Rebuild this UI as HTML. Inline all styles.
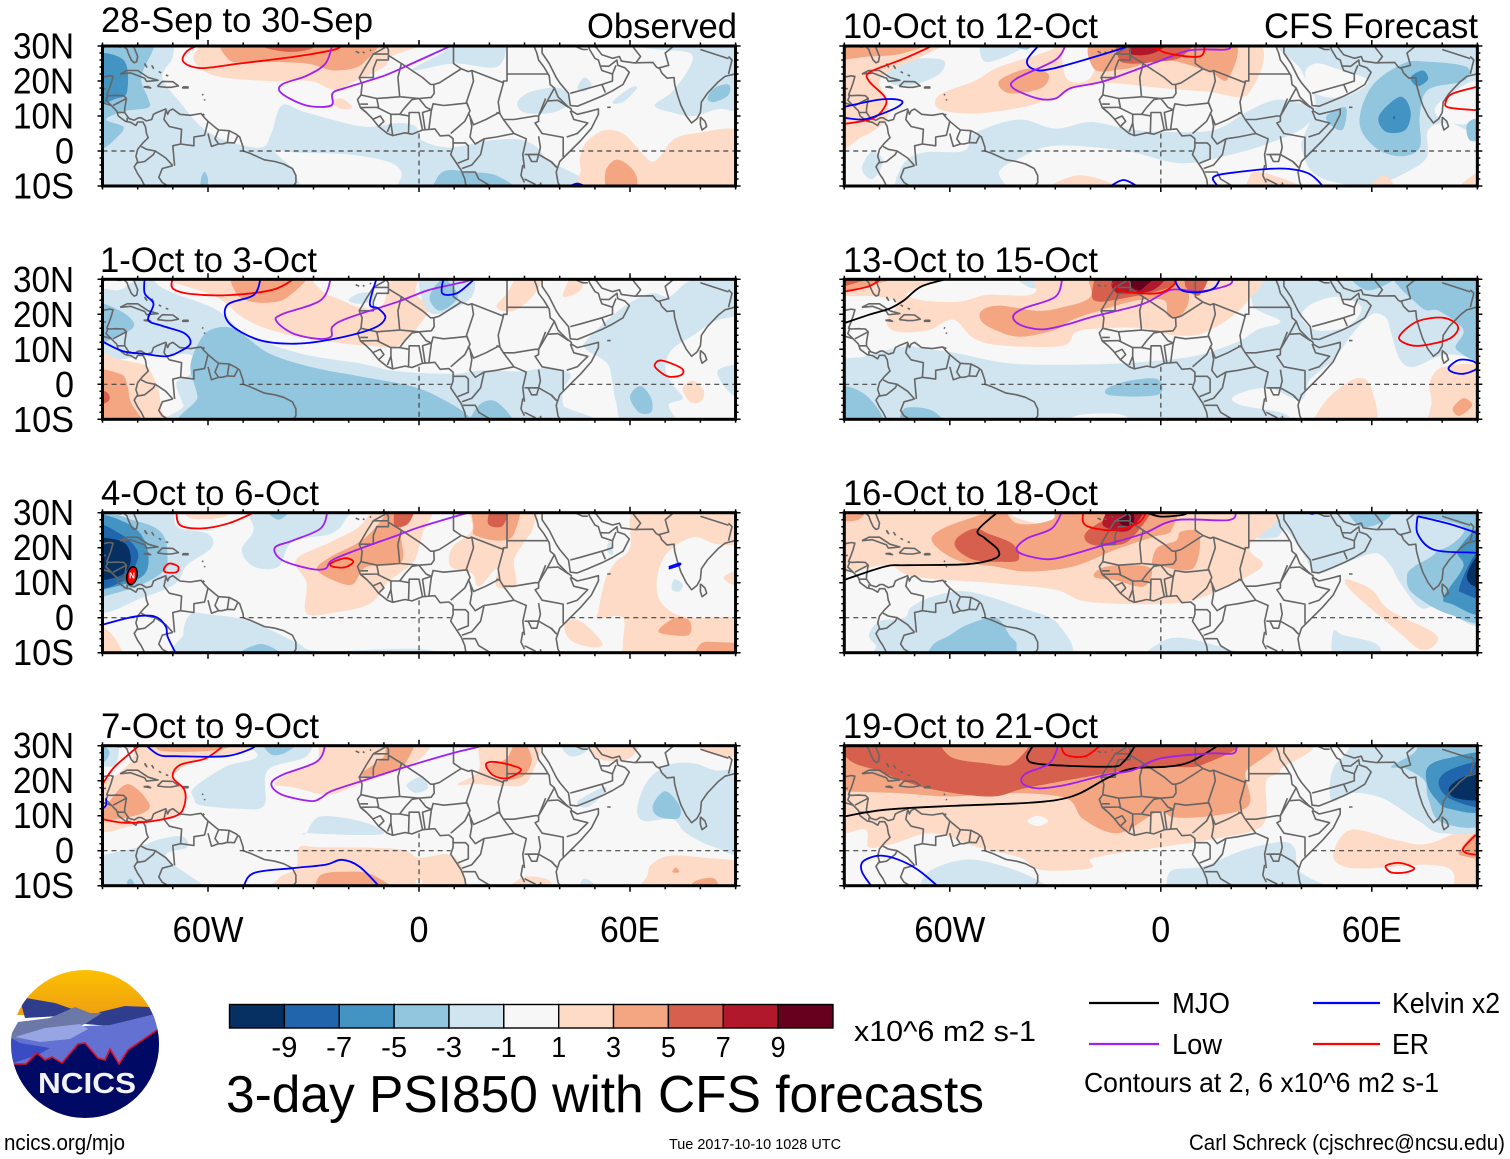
<!DOCTYPE html>
<html lang="en">
<head>
<meta charset="utf-8">
<title>3-day PSI850 with CFS forecasts</title>
<style>
html,body{margin:0;padding:0;background:#fff;}
svg{display:block;position:absolute;left:0;top:0;}
text{font-family:"Liberation Sans",sans-serif;fill:#000;}
</style>
</head>
<body>
<svg id="chart" xmlns="http://www.w3.org/2000/svg" width="1510" height="1159" viewBox="0 0 1510 1159">
<defs id="defs"><clipPath id="logo-clip"><circle cx="85" cy="1044" r="74"/></clipPath>
<linearGradient id="logo-sky" x1="0" y1="0" x2="0" y2="1"><stop offset="0" stop-color="#fdc400"/><stop offset="1" stop-color="#ee9f10"/></linearGradient></defs>
<g id="panel-0"><text x="101" y="32" font-size="35" textLength="272" lengthAdjust="spacingAndGlyphs">28-Sep to 30-Sep</text><text x="587" y="38" font-size="35" textLength="150" lengthAdjust="spacingAndGlyphs">Observed</text></g>
<g id="panel-1"><text x="100" y="272" font-size="35" textLength="217" lengthAdjust="spacingAndGlyphs">1-Oct to 3-Oct</text></g>
<g id="panel-2"><text x="101" y="505" font-size="35" textLength="218" lengthAdjust="spacingAndGlyphs">4-Oct to 6-Oct</text></g>
<g id="panel-3"><text x="101" y="738" font-size="35" textLength="218" lengthAdjust="spacingAndGlyphs">7-Oct to 9-Oct</text></g>
<g id="panel-4"><text x="843" y="38" font-size="35" textLength="255" lengthAdjust="spacingAndGlyphs">10-Oct to 12-Oct</text><text x="1264" y="38" font-size="35" textLength="214" lengthAdjust="spacingAndGlyphs">CFS Forecast</text></g>
<g id="panel-5"><text x="843" y="272" font-size="35" textLength="255" lengthAdjust="spacingAndGlyphs">13-Oct to 15-Oct</text></g>
<g id="panel-6"><text x="843" y="505" font-size="35" textLength="255" lengthAdjust="spacingAndGlyphs">16-Oct to 18-Oct</text></g>
<g id="panel-7"><text x="843" y="738" font-size="35" textLength="255" lengthAdjust="spacingAndGlyphs">19-Oct to 21-Oct</text></g>

<g id="colorbar"></g>
<text x="854" y="1041" font-size="29" textLength="182" lengthAdjust="spacingAndGlyphs">x10^6 m2 s-1</text>
<text x="226" y="1112" font-size="52" textLength="758" lengthAdjust="spacingAndGlyphs">3-day PSI850 with CFS forecasts</text>

<g>
<line x1="1089" x2="1159" y1="1003" y2="1003" stroke="#000" stroke-width="2.2"/>
<text x="1172" y="1013" font-size="29" textLength="58" lengthAdjust="spacingAndGlyphs">MJO</text>
<line x1="1313" x2="1380" y1="1003" y2="1003" stroke="#0000ff" stroke-width="2.2"/>
<text x="1392" y="1013" font-size="29" textLength="108" lengthAdjust="spacingAndGlyphs">Kelvin x2</text>
<line x1="1089" x2="1159" y1="1044" y2="1044" stroke="#a020f0" stroke-width="2.2"/>
<text x="1172" y="1054" font-size="29" textLength="50" lengthAdjust="spacingAndGlyphs">Low</text>
<line x1="1313" x2="1380" y1="1044" y2="1044" stroke="#ff0000" stroke-width="2.2"/>
<text x="1392" y="1054" font-size="29" textLength="37" lengthAdjust="spacingAndGlyphs">ER</text>
<text x="1084" y="1092" font-size="28" textLength="355" lengthAdjust="spacingAndGlyphs">Contours at 2, 6 x10^6 m2 s-1</text>
</g>

<g clip-path="url(#logo-clip)">
<rect x="5" y="965" width="160" height="50" fill="url(#logo-sky)"/>
<path d="M20 1000 L26 998 L55 1003 L75 1010 L60 1016 L25 1018Z" fill="#2f3d8c"/>
<path d="M85 1024 L100 1012 L125 1006 L150 1007 L160 1020 L110 1026Z" fill="#2f3d8c"/>
<path d="M8 1040 L18 1022 L50 1018 L75 1007 L90 1013 L102 1013 L85 1024 L60 1032 L20 1042Z" fill="#6b78a8"/>
<path d="M8 1040 L60 1034 L85 1026 L110 1025 L155 1014 L165 1040 L165 1100 L8 1100Z" fill="#6372d2"/>
<path d="M15 1037 L45 1028 L80 1024 L88 1029 L70 1039 L40 1042Z" fill="#98a5e4"/>
<path d="M8 1036 L20 1043 L50 1048 L38 1055 L16 1062 L8 1066Z" fill="#3a4cc4"/>
<path d="M13 1064 L26 1064 L37 1053 L45 1060 L52 1057 L62 1063 L78 1044 L85 1043 L98 1058 L105 1060 L110 1049 L119 1064 L128 1050 L157 1030 L165 1020 L165 1125 L5 1125Z" fill="#000a64"/>
<path d="M13 1064 L26 1064 L37 1053 L45 1060 L52 1057 L62 1063 L78 1044 L85 1043 L98 1058 L105 1060 L110 1049 L119 1064 L128 1050 L157 1030 L165 1020" fill="none" stroke="#e0102a" stroke-width="1.6"/>
<text x="38" y="1093" font-size="29" font-weight="bold" textLength="98" lengthAdjust="spacingAndGlyphs" style="fill:#f2f2f2">NCICS</text>
</g>

<text x="4" y="1150" font-size="22" textLength="121" lengthAdjust="spacingAndGlyphs">ncics.org/mjo</text>
<text x="669" y="1149" font-size="15" textLength="172" lengthAdjust="spacingAndGlyphs">Tue 2017-10-10 1028 UTC</text>
<text x="1189" y="1150" font-size="22" textLength="316" lengthAdjust="spacingAndGlyphs">Carl Schreck (cjschrec@ncsu.edu)</text>
</svg>

<script>
// Colour bins, tick labels
const binColors = ["#053061","#2166ac","#4393c3","#92c5de","#d1e5f0","#f7f7f7","#fddbc7","#f4a582","#d6604d","#b2182b","#67001f"];
const binLabels = ["-9","-7","-5","-3","-1","1","3","5","7","9"];
const latTicks = [30,20,10,0,-10];
const latTickLabels = ["30N","20N","10N","0","10S"];
const lonMajorTicks = [-60,0,60];
const lonTickLabels = ["60W","0","60E"];
const waveColors = {mjo:"#000000",low:"#a020f0",kelvin:"#0000ff",er:"#ff0000"};

// Shaded fields: [bin level, [lon,lat,...]] painted in order
const fillsSep28 = [
[-1,[-92,32,-72,32,-70,27,-73,21,-68,14,-62,7,-55,3,-45,1,-42,5,-39,13,-32,11,-16,7,-6,8,-1,7,1,3,9,1,20,3,30,3,36,-2,40,-13,-92,-13]],
[0,[-41,0,-34,-0.5,-20,-1,-9,-3,-5,-6,-6,-9.5,-8,-13,-30,-13,-36,-5]],
[-1,[-1,23,10,25,22,24,25,30,25,33,10,33,8,29,-1,24]],
[-1,[28,14,32,17,40,18,43,14,38,11,30,11]],
[-1,[45,18,47,21,49,19,47,17]],
[-1,[67,13,72,17,77,24,77,28,68,29,62,30,62,33,93,33,93,13,85,12,78,10,72,11]],
[-1,[55,14,60,18,62,18,58,14]],
[-2,[82,15,84,18,88,19,88,16,84,14]],
[-2,[-93,33,-75,33,-75.6,29,-79,21,-77,15,-77,12.4,-83.6,11.4,-89,9,-84,6.8,-86.4,3.4,-90,0.6,-93,0.6]],
[-3,[-93,27,-84,26,-83,17,-86,15,-93,14]],
[-2,[-62,-8,-61,-6,-60,-8,-60.5,-11,-62,-11]],
[-2,[5,-8,8,-5.5,14,-6,22,-7,27,-12,5,-13]],
[1,[-64,26,-62,31,-62,33,1,33,0,30,-8,27,-10,24,-18,20,-24,17.5,-31,20,-43,20,-58,21.5]],
[1,[-25,14,-22,15,-19,12.5,-22,12]],
[2,[-54,26,-53,33,-14,33,-16,25,-24,23,-32,25,-46,25.5]],
[3,[-45,30,-37,28.3,-30,29.5,-29,33,-46,33]],
[1,[46,-1,48,3,53,6,58,5,62,1,66,-3,69,-1,72,3,78,5,93,5,93,-13,49,-13,46,-5]],
[2,[53,-6,56,-2.5,60,-4.5,62,-8,61,-12,54,-12]]
];
const linesSep28 = [
["er",false,[-62,30.5,-66,28.5,-67,25.5,-62,23.7,-51,25,-35,27,-24,29,-22,30.5]],
["low",false,[-24.6,30.5,-26.6,25,-32,21.5,-39,19,-39,16.4,-32,13,-25,13,-24.6,16.5,-21,18,-10,21.5,-2,25,10,30.5]],
["kelvin",false,[42,-10.5,45,-9.3,48,-10.5]]
];

const fillsOct1 = [
[-1,[-93,26,-85,27,-78,31,-72,27,-59,22,-54,18.4,-51,15.5,-46,12.7,-32,8.4,-17,6,-6,3.7,10,3,18,4,29,3.7,36,4.6,43,3,41,-1.5,41,-6,43,-12,-65,-13,-67,-6,-69,0.4,-65,3,-65,8.4,-78,8,-93,8]],
[1,[-72,33,-72,30,-60,26,-56,24,-49,18.4,-39,14.6,-24,12,-14,11,-6,11,0.5,17.5,2.6,22,-1,26,0,30,1,33]],
[0,[-30,33,-9,33,-9,27,-11,22,-17,22,-22,24,-28,27]],
[-1,[-20,24,-17,26,-13,26,-13,24,-17,23]],
[-1,[1,33,14,33,15,25,5,20,1,24]],
[-1,[48,13,58,22,66,26,71,25,76,29,80,30,93,30,93,21,84,18,78,14,72,10,70,5,72,0,75,-4,71,-6,73,-12,59,-12,56,-5,55,0.4,53.5,6,47.5,10]],
[-1,[85,4,88,-2,93,-4,93,5]],
[-2,[-62,13,-58,16,-52,15.6,-43,9,-31,5,-17,2.3,-2,-0.6,7,-4.4,14,-9,15,-13,-63,-13,-63,-3.5,-65,5]],
[-2,[17,-6,22,-5,27,-12,15,-12]],
[-2,[-93,23,-85,21,-81,17,-85,14,-93,12]],
[-2,[3,25,7,30,11,25,6,21]],
[-2,[60,-3.5,63,-0.5,66,-4,66,-8,62.5,-8]],
[2,[-52,33,-52,26,-47,23.5,-40,23.7,-36,26,-32,30,-32,33]],
[1,[22,22,25,26,29,32,35,32,33,26,27,21]],
[1,[41,26,44,32,47,32,46,27,42,25]],
[1,[-93,8,-85,7,-78,5.5,-76,3,-74,-2,-73,-8,-70,-12,-93,-13]],
[2,[-93,3,-85,3,-83,0,-82,-5,-79,-12,-93,-13]],
[3,[-93,-1,-88.5,-2.5,-88.5,-5,-93,-6]],
[1,[75,-1,78,1,81,-2,80,-5,77,-5]]
];
const linesOct1 = [
["er",false,[-70,30.5,-70,27.4,-64.7,25.8,-54,25.5,-41.6,27,-35,30.5]],
["low",false,[-25,30.5,-28,24,-39,20,-40.5,18,-36,14.6,-29,13,-25,13.6,-24.6,16.5,-20,19,-6,23.6,3,27,13,29.3,16,30.5]],
["kelvin",false,[-78,30.5,-78,26,-75.5,23,-77,18.4,-73,16.7,-66.7,14.6,-65,11.7,-68,9.4,-72,8,-78,8.7,-84,9.4,-90,12.2]],
["kelvin",false,[-45,30.5,-47,25.5,-54.5,22.7,-54,17.5,-45.6,12.7,-35,11.6,-24,13,-13,16,-9.6,19,-11.6,21.7,-14,23,-12,30.5]],
["kelvin",false,[7,30.5,6.6,26,10.7,26,15,29.4,16,30.5]],
["kelvin",false,[-90,4,-90,2]],
["er",true,[67,5.6,69,6.8,74.6,4.6,74.6,2.7,71,2.2,68,4]]
];

const fillsOct4 = [
[-1,[-93,33,-72,33,-68.7,26,-60,24,-59,20,-66,15,-69,10,-78,6,-93,3]],
[-1,[-47,33,-20,33,-21,28,-25,24,-36,21.7,-40,14.6,-47,14.6,-50.4,19.4,-47,25]],
[-1,[-65,1,-67,-4.5,-65,-13,5,-13,1,-9,-28,-9.5,-35,-7,-48,-1,-60,1]],
[-2,[-53,-12,-45,-7.5,-38,-12]],
[-1,[72,10,73,11,75,9.5,74,7.5,72,8]],
[-1,[53.5,19,54,22,55,20,55,18]],
[-2,[-44,32,-40,28,-36,32]],
[-2,[-93,28.5,-80,27.5,-73,24,-71.5,17,-73,13,-80,9,-90,6,-93,5]],
[-3,[-93,28,-83,27,-78,22,-77,15,-80,11,-90,8,-93,8]],
[-4,[-93,26,-85,24,-80,19,-81,14,-83,11,-93,9]],
[-5,[-93,22,-84,21.5,-82,16,-85,12,-93,11.5]],
[1,[-32,1.3,-24,1.5,-14,4,-9,10,-2,15.5,0,20,1,24,4,33,-10,33,-17,26,-25,21.7,-35,16.5,-32,10]],
[1,[9,14.6,9.4,20,15,25,15.5,33,32.5,33,32.5,26,30,21.7,27,16.5,27.7,11,27,8.5,22,9,22,14,17,8.9,15,12.7]],
[1,[51,2,53,11,56,16,60,20,63,33,93,33,93,22,85,21,78,23,71,19,68,13,68,6,72,1.5,78,0,93,-1,93,-13,60,-13,58,-8,58,0,51,0]],
[1,[42,-1,46,-1,52,-7,50,-8.5,44,-7,41.5,-4]],
[1,[87,12,93,14,93,9,88,10]],
[1,[-93,-3,-88,-4,-84,-12,-93,-12]],
[1,[-67,33,-55,33,-55,29,-65,28.5]],
[2,[-29,14,-25,17.5,-16,22.3,-10,29,-10,33,1,33,-5,26,-5,16,-15,14.5,-19,9.5,-25,11]],
[2,[15.5,26,16,33,28,33,27,24,23,22,16,23.5]],
[2,[68.5,-3,73,0,77,-1,76.5,-5,69,-4.5]],
[2,[80,-7.5,85,-7,93,-8,93,-13,79,-13]],
[3,[-7,26.5,-6,33,-1,33,-3,27]],
[3,[19.5,27.5,21,32,25.5,32,24,26.5,21,26]]
];
const linesOct4 = [
["low",false,[-26,30.5,-28,25.5,-36,22,-41,20,-39,16.5,-31,14,-26.6,14,-24.6,16.5,-16,20,-6,23.6,0.5,26,15.5,30.5]],
["er",false,[-69,30.5,-68,26.5,-62,25.5,-54,27,-46,30.5]],
["er",true,[-72.5,14,-71,15.5,-68.5,14.6,-69,13,-72,13]],
["er",true,[-25,15.6,-21,17,-18.7,16,-21,14.4,-24.6,14.6]],
["kelvin",false,[-90,-2,-81,0.3,-75,0.3,-72,-2.5,-71.5,-5.4,-69,-10.5]],
["kelvin",false,[71,14,74,15,74,15.5,71,14.5]]
];

const fillsOct7 = [
[-1,[-93,33,-86,33,-86,25,-90,24,-93,24]],
[-2,[-90,30,-88,28,-90,25]],
[-1,[-64,18,-55,24,-46,27,-50,33,-32,33,-32,27,-43,23,-44,13,-51,12,-62,13,-64,15]],
[-2,[-44,31,-42,27.5,-38,28,-35,31]],
[-1,[-32,5,-28,9.8,-16,8.3,-10,5,-18,4.5,-32,5]],
[-1,[-3.5,18.8,0.5,21,2.6,18,-1,16.5]],
[-1,[41,30,43,27,47,28,49,31]],
[-1,[45,14,52,18,53,17,48,12.5]],
[-1,[62,12,65,20,71,24.5,78,25,84,23,93,21,93,0,84,1,76,5,72,9,64,8.5]],
[-2,[66.5,13,70,17,74,13,73.7,9.3,68,9.8]],
[-1,[-93,-3,-80,1,-73,3.5,-67,4,-66,1,-72,-2,-60,-13,-93,-13]],
[-2,[-83,-9,-82,-8,-81,-9.5,-82,-11]],
[-1,[46,-9,47.5,-8,50,-10,50,-13,46,-13]],
[1,[-92,6,-82,7,-78,8.3,-70,9.8,-66.7,13,-66.7,17.4,-70,21,-64.7,25,-55,27.4,-48,29,-46,33,-76,33,-80,30,-82,25.4,-87,21,-92,19]],
[2,[-89,13,-83,19,-77,14,-78,11,-86,9,-93,9]],
[2,[-75,31,-73,28.5,-60,28.5,-53,30,-51,33,-75,33]],
[1,[-41,19,-37,22,-29,26,-26,33,1,33,0,26,-17,19,-26,16,-35,18]],
[2,[-16.5,22,-10,27,-9,33,-1,33,-3,26.5,-6,23.5,-13,21.5]],
[1,[11,19,17,23,18,33,34,33,31,20,24,18.5,17,19]],
[2,[19.5,24.5,25,26.5,28.4,33,32,26.5,30,21.6,25.7,20.2,23.6,20.7,19.5,23]],
[1,[49,30,63,33,60,26.5,52,26]],
[1,[78,33,93,33,93,27,82,28]],
[1,[-34,1,-28,1,-6,0.5,0,-2,8,-1,12,-4,13,-9,12,-13,-39,-13,-40,-8,-35,-5]],
[0,[0,-8,1,-8.8,0,-9.5,-1,-8.8]],
[2,[-30,-12,-28,-7,-21,-6,-13,-7,-7,-13,-32,-13]],
[1,[66,-4,71,-1.5,81,-2,93,-4,93,-13,64,-13,65,-7]],
[2,[72,-6,73,-4.8,74,-6,73,-6.3]],
[2,[78,-9,84,-8,85,-13,78,-13]],
[1,[25,-11,30,-7.5,37,-8.5,37,-13,25,-13]]
];
const linesOct7 = [
["er",false,[-90,19,-87,23.5,-82,28,-79,30.5]],
["er",false,[-90,9,-84,8,-77,8.3,-69,10,-66.7,13,-66.7,17.4,-70,21,-68,24.5,-60.6,26.4,-55,30.5]],
["kelvin",false,[-78,30.5,-74,27.4,-69,27,-55,27,-48,29,-46,30.5]],
["kelvin",false,[-89,15,-89,13,-90,12]],
["low",false,[-26.6,30.5,-29,25.5,-39,21.6,-42,19,-39,16,-31,14.2,-28,15,-25,17,-16,20,-2,24.5,10,28,17,29.7,19,30.5]],
["er",true,[19,24.5,21,25.4,26,24.5,29,23,25,20.7,21,21.6]],
["kelvin",false,[-50,-10.5,-47,-6.4,-36,-5,-26.6,-4,-22,-2.6,-17,-4.5,-11,-10.5]]
];

const fillsOct10 = [
[-1,[-53,5,-40.5,9,-30,6.4,-20,8.3,-10,6.4,0,5.5,15,6,24,11,32,14.5,38,14,44,12,41,7,33,3,22,-0.5,6,-3.5,-10,0,-30,1.5,-40,-2,-46,-6,-45,-13,-73,-13,-74,-5,-68,-0.5,-56,0]],
[-1,[-82,0,-79,-3,-82,-8,-85,-5]],
[-1,[-50,25.5,-40,29,-36,33,-50,33]],
[-2,[-42,30,-38,29,-37,31,-42,31]],
[-1,[-78,22,-72,26,-62,26,-63,22,-70,19,-76,19]],
[-1,[36,33,40,23,44,14,41,5,40,1,43,-6,50,-9,60,-10,70,-6,75.7,-1.6,76,6,82,8,93,6,93,33]],
[0,[44,25,50,23.5,59,20,52,15.5,44,16.4,41,22]],
[0,[80,14.5,90,20,90,9,82,8,78,11]],
[-2,[56.5,8,60,18.5,69,25,76,25.5,87,24,86,20,76,17.5,73.6,10,73.6,1,68,-1.5,61,1]],
[-3,[62,10,68,15.5,71,11.5,69.5,6,64,5.5]],
[-3,[71,21,74.5,23,76,20.5,73,18.5]],
[-4,[66,9.5,66.5,10,66.5,9]],
[-2,[47,9.8,52.5,12.5,52,6.5,49.5,6.5]],
[-2,[87,7.5,90,9,93,4,88,3]],
[1,[-93,33,-60,33,-68,27,-75,24,-80,20,-78,15,-78,9,-85,4,-93,2]],
[1,[-63,12,-63,16,-53,20,-46,24,-31,29,-27,33,25,33,25,16.5,13,17,0,18,-19,19.5,-30,15.5,-39,12.6,-53,10.7]],
[0,[-27,33,-27,21,-20,21,-17,33]],
[1,[-34,-13,-24,-7,-12,-10,-8,-13]],
[1,[25,-8,28,-6,40,-10,41,-13,25,-13]],
[1,[59,-11,64,-7,67,-13]],
[1,[86,-9,93,-5,93,-13,84,-13]],
[2,[-93,26.5,-83,27,-73,28,-62,33,-93,33]],
[2,[-46,20,-38,23.5,-32,22,-34,18,-43,16.5]],
[2,[-19,23.5,-17,33,19,33,19,20.5,13,23,1,26,-10,23.5]],
[3,[-12,26.5,-11,33,9,33,6,27,-1,25.5,-9,25]],
[4,[-9,29,-7,33,4,33,0,29,-4,27.5,-8,27.5]]
];
const linesOct10 = [
["er",false,[-64,30.5,-73,26.4,-82.6,22.6,-83,20,-78.5,15.5,-78.5,12.6,-82,9.3,-90,7.7]],
["kelvin",false,[-90,12.6,-80,14.7,-74,14.5,-74.5,12.8,-81,10,-85,9,-90,9.5]],
["kelvin",false,[-34.4,30.5,-38,26,-36.4,23.5,-31,23.5,-12,29,-9,30.5]],
["low",false,[-27,30.5,-30,26,-41,20.7,-42,18,-35,15,-30,15,-25.5,18,-16,20,-1,25.5,8.4,28.8,18.6,29,20,30.5]],
["er",false,[-3,30.5,1.6,28,11,27,12.5,30.5]],
["er",false,[90.5,18.5,83,16.4,81,14,82,12.4,90.5,11.6]],
["kelvin",false,[-15,-10.5,-10.6,-8.3,-6,-10.5]],
["kelvin",false,[16.6,-10.5,15,-7.4,22,-6,34,-5,42,-6.4,46.5,-10.5]]
];

const fillsOct13 = [
[-1,[-93,5,-84,8,-73,10.8,-66,10,-58,8.9,-43,6,-25.5,5.6,-10.6,6,1.6,7,11,8.4,22,12.2,27.4,15.6,34,18,26,23,33,33,93,33,93,10,80.4,8.4,72,5,68,7,65.5,14.6,64,19,60,20,54.6,14.6,49,7,42.4,1.3,39.7,-4.4,30,-1,20.6,-3.5,23,-6,34,-8,37,-10,38,-13,-93,-13]],
[0,[-27,-13,-24,-9,-12,-8.5,-8,-11,-8,-13]],
[0,[43,23,50.5,25,57,22,53,16.5,44,15.5,40,19.4]],
[-1,[-42,31,-36,27.4,-29,31,-42,33]],
[-2,[-93,-1,-84,-3,-79,-12,-93,-13]],
[-2,[-73,-7,-65,-7.5,-62,-12,-73,-13]],
[-2,[-15,-1,-9,1,-1,1.5,0,-2.5,-6.5,-3.5,-15,-3]],
[-2,[12,-10,20,-10,20,-13,12,-13]],
[-2,[53,33,58,27,65,29,68,33]],
[-2,[66,33,74,22,79,21,86,15.6,84,10,93,8,93,33]],
[1,[-93,33,-93,26,-80,25,-75,23,-78,18,-75,15,-66,15.5,-59,18.5,-53,13,-44.5,11,-28,11,-24,15,-16,16,-5,16,4,14,13,15,24,23,25,33,-30,33,-36,26,-44.5,25.5,-50,25.5,-57.5,23.6,-68,24,-72,26,-62,30,-60,33]],
[2,[-51,21,-46,22.5,-35,21,-28,22,-20,25,-19,33,4,33,8,25,5.5,19.5,2,19.5,1,24,-6.5,24,-16,21.5,-25,18.5,-30,15.6,-40,13.6,-47,15.5,-51,18]],
[2,[-93,26.5,-84,28,-75,31,-93,33]],
[3,[-19,30,-19,24,-11,24.5,3,28,3,33,-19,33]],
[3,[8,33,14,33,11,25.5,7,28]],
[3,[-93,31,-82,31,-90,28,-93,28]],
[4,[-14,29,-11,33,2,33,-2,27,-11,26,-13,26.5]],
[5,[-9,29,-8,33,0,33,-5,27.5,-7,27]],
[1,[42,-12,48,-3.5,56,1.8,60,-1.5,60,-13,40,-13]],
[1,[76.5,0.5,80.5,5,93,4,93,-13,77,-13,77,-5]],
[2,[83,-7,86,-4,88.5,-6,85,-9]]
];
const linesOct13 = [
["low",false,[-28,30.5,-30,25,-39,21.7,-42,19.4,-40,17,-34,15.7,-27,17,-19,19.4,-5,23,3,27,11,26.5,19.3,28.4,20.4,30.5]],
["mjo",false,[-59,30.5,-68,28,-73,24,-77,21.7,-82.6,20,-90,17.5]],
["er",false,[-90,26.5,-83,28,-79,30.5]],
["er",false,[-12.6,28,-10.6,26.5,-1,26,3.7,28.4,4,30.5]],
["kelvin",false,[3.7,30.5,5.7,27,10.5,26.3,15,27.4,17,30.5]],
["er",true,[68,14,73,18,80.4,19,84.5,16.5,82,13,73.6,11,68.9,12]],
["kelvin",true,[82,5,85,7,89,6.5,90,4.6,86,3,82.5,3.7]]
];

const fillsOct16 = [
[-1,[-83,-5,-80,-1,-73,0,-71,3,-65,6,-55,7.5,-40,3,-29,-2,-29,-13,-78,-13,-81,-8]],
[-2,[-65,-8,-60,-5,-55,-2,-47,0,-43,-5,-41,-8,-44,-13,-65,-13]],
[-1,[-4,-13,0,-7,8,-6,25,-11,25,-13]],
[-1,[49,-4,52,-5,61,-7.3,63,-11,63,-13,50,-13]],
[-1,[27,23,26,27,33,33,93,33,93,-1,79,3,73.6,3,68,10,65.5,14.6,61.4,18.4,54.6,16.5,48,13.6,43.7,12.7,41,17.4,35.6,25,33,23]],
[-2,[52.5,31,57,26,64,28,66,33,52,33]],
[-2,[72,14.6,78,18.4,81,25,73,29,73,33,93,33,93,1,82,1,71.6,7,70,12]],
[-1,[73,29,86,26,82,20.5,76,19.5,72,24,71.5,28]],
[-3,[80.5,6,86,14.6,84.5,19.4,93,26,93,2,82.5,4]],
[-4,[85,9,89,17.5,93,19.5,93,6,86,7]],
[-5,[87,12,90,17.5,93,16,93,9.5,89,9]],
[1,[-93,14,-78,15,-70,11.7,-47,9.8,-30,8,-21,4.6,-1,3.9,11,5.6,25,12,29,15.6,25,20,25,33,-93,33]],
[1,[53,11,60,8,65,2.2,77.7,-4.4,77.7,-8,73.6,-9,68,-4.4,57,5,53,9]],
[0,[-43,33,-42,29,-32,27,-29,33]],
[2,[-65,21.7,-62,25.5,-50,30,-46,33,-41,27,-31,28,-27,33,2,33,3,25,-2.5,23,-13,19.4,-25,14.6,-38,13.2,-47,14.6,-58,16.5]],
[2,[-19,11.7,-16,14.5,-6.5,15,-2.5,13.5,-5,8.9,-13,10.7]],
[2,[-2.5,15.5,-1,20,4.3,22,5.7,24.6,11,24,9,14,-1,15]],
[2,[-93,28,-86,28,-84,32,-93,32]],
[3,[-58,22.7,-53,25.5,-49,24,-42,21,-40.5,16.5,-46,16,-53,16.5,-58,19.6]],
[3,[-21.5,24,-16,28,-5,33,-1,33,-8,23,-13,20.7,-20,21]],
[4,[-16,29,-13,33,-4,33,-9,25,-16,26]],
[5,[-12,28.5,-8,30,-8,26.5,-11,26.5]]
];
const linesOct16 = [
["mjo",false,[-90,10.8,-78.5,14.6,-72,15,-55,15.3,-47,17,-46.3,19.4,-50,22.7,-52,25,-46,30.5]],
["mjo",false,[-4,30,0,28.9,6.4,29.4,8,30.5]],
["low",false,[-28,30.5,-31,25.5,-38,22.7,-41,19.8,-39,18,-32,16.7,-25.5,18,-16,20.8,-5,24,4.3,27.9,19.3,27.9,21.3,30.5]],
["er",false,[-22,30.5,-21.5,26.5,-14,25,-6.5,27,-4,30.5]],
["kelvin",false,[-43,30.5,-42,30,-40,30.5]],
["kelvin",false,[73,29,73,24,77.7,19.4,89,18.6,90.5,18.6]],
["kelvin",false,[73,29,82,26.8,90.5,24]],
["kelvin",false,[41,30.5,43,29.7,45,30.5]]
];

const fillsOct19 = [
[1,[-93,33,34,33,34,23,30,20,30,10,27,6,16,3.5,0,1,-19,-2,-20,-5,-34,-5.5,-40,-2,-52,1,-65,5,-76,2,-83,1,-84,6,-93,7]],
[0,[-38,8.5,-35,10,-32,8.5,-35,7]],
[1,[49,-1,54,6,67,3,76,2,93,7,93,-13,84,-13,83,-6,76,-4,60,-5,52,-4.5]],
[2,[-93,33,24,33,24,22,25,13,15,10,4,9.5,-1,11,-12,5,-22,9,-27,15,-43,16.5,-60,15.5,-75,16.5,-90,17,-93,18]],
[3,[-93,31,-88,25.5,-81,23,-67,18,-48.6,15.5,-38,18,-16,22,-2.5,24,12,24.6,15,33,-93,33]],
[2,[-61,33,-60,27,-50,25,-42,25,-38,33]],
[2,[85,0,90,5,93,-2,86,-1.5]],
[-1,[-69,-12,-66,-6,-55,-2.5,-43,-5,-34,-9,-32,-12,-69,-13]],
[-1,[1.6,-11,3,-5.7,12,-4.5,23,0,34,2.5,38,0.7,39.7,-6,49,-11,49,-13,1.6,-13]],
[-1,[49,23.5,52,27,60,33,93,33,93,8,80,5,73,8.7,63,15,54,16.5,49,14,48,18]],
[-2,[65.5,24,72,28,76,33,93,33,93,9,80,8,76,15,75,20,69.5,23.5]],
[-3,[75.7,19,76,24,82,26.5,93,27,93,12,82,12,78,15]],
[-4,[79,19,82,23,93,25,93,13,83,14.5]],
[-5,[82,18,87,21.5,93,22,93,15,84,15]]
];
const linesOct19 = [
["mjo",false,[-90,9.8,-78.5,11.7,-59.5,12.8,-39,13.6,-29.6,14.5,-23,16.4,-14.7,21,-8,23.5,1.6,24,8.4,25.4,17,30.5]],
["mjo",false,[-36,30.5,-38,26.4,-33.7,24.7,-14.7,24,-10.6,25.4,-7,30.5]],
["low",false,[-29,30.5,-31.6,25,-38.5,22,-39.4,19.3,-35,17.8,-27,18.8,-16,21.6,-8,23,0,26.4,14,27.8,20.6,27.8,21.6,30.5]],
["er",false,[-28.5,30.5,-27,27.4,-21.5,27,-16.7,30.5]],
["er",true,[64,-4.3,68,-3.5,72,-5,69.6,-6.2,65.5,-6.2]],
["er",false,[89.5,4.5,86,0.7,87,-0.7,90.5,-1.2]],
["kelvin",false,[-82,-10.5,-85,-6,-84.6,-3,-79.9,-1.4,-74.5,-2.6,-69,-5.5,-63,-10.5]]
];

const panelFills = [fillsSep28,fillsOct1,fillsOct4,fillsOct7,fillsOct10,fillsOct13,fillsOct16,fillsOct19];
const panelLines = [linesSep28,linesOct1,linesOct4,linesOct7,linesOct10,linesOct13,linesOct16,linesOct19];

// Map outlines in lon,lat
const coastlines = [
[-97,28,-90,29.2,-89,30.3,-85,29.7,-84,30,-83,29,-82.7,28,-81.8,26,-81,25.2,-80.3,25.5,-80,27,-81,29.5,-81.3,31],
[-92,18.5,-91,19,-90.5,21,-88,21.5,-87,21.3,-87.5,19.5,-88,18,-88.8,16,-88,15.8,-86,15.9,-84,15.8,-83.2,15,-83.7,12,-83.7,11,-82.5,9.3,-81,8.8,-79.8,9.5,-79,9.5,-77.5,8.6,-76,9,-75.5,10.5,-74.5,11,-72,12,-71.5,10.5,-71,11.5,-70,12,-68,10.5,-65,10.2,-62,10.7,-61,9.5,-60,8.5,-58,6.8,-57,6,-54,5.8,-52,4.8,-51,4,-50,1,-50,0,-48,-0.7,-44,-2.5,-41,-3,-38.5,-3.7,-36,-5,-35,-7,-35,-9,-36.5,-11],
[-93,15,-90,13.8,-87.5,13,-86,11.5,-85.5,10,-83.5,8.5,-82,8.2,-80.5,7.3,-80,8.3,-78.5,8.3,-77.8,7,-77.5,5,-77,3.8,-78.5,2.3,-80,0.5,-80.5,-1.5,-80,-3,-81,-4.5,-80,-6.5,-79,-8,-77.5,-11],
[-85,22,-83,23,-80,23,-77,21,-74.2,20.2,-77.5,19.9,-78,20.8,-82,22.3,-85,22],
[-74.4,18.5,-73,19.9,-70,19.8,-68.4,18.6,-70.5,18.2,-72,18.2,-74.4,18.5],
[-78.3,18.3,-76.3,18,-77,18.4,-78.3,18.3],
[-67.2,18.3,-65.7,18.3,-65.7,18,-67.2,18,-67.2,18.3],
[-78,25,-77.4,24,-77.8,24.5,-78,25],[-76,24.5,-75.4,23.5],[-74,22.7,-73.3,22.3],[-72,21.7,-71.3,21.5],
[-61.7,16.2,-61.3,16],[-61,14.8,-60.9,14.4],[-61.5,10.6,-61,10.2],
[-18,28.5,-17,28],[-16,28.3,-15.5,28],[-14,28.7,-13.6,28.9],
[-10,30.5,-9.8,29.5,-13,27.7,-15,24.5,-17,21,-16.2,19,-16.5,16,-17.5,14.7,-16.7,12.5,-15,11,-13.5,9.5,-11.5,7,-9,5,-7.5,4.4,-4,5.2,-2,4.8,1,6,4.5,6.3,6,4.3,8.5,4.5,9.7,3.5,9.7,1,9,-1,11,-4,12,-5.5,13,-8,13.5,-11],
[32.5,30.5,33.5,28,34,26,35.5,24,37,21.5,37.3,19,38.5,18,39.5,15.5,42,13,43.3,12,43.3,11.5,45,10.5,48,11.2,51,12,51,10.5,49,6.5,46,3,42,-1,40,-3,39,-6,39.5,-9,40.5,-11],
[35,30,35,28,37,25,39,21,40,19.5,42.5,16.5,43,13,45,12.8,48,14,52,15.7,55,17.2,58,19,59.8,22.5,58.5,23.8,56.5,24.5,56.3,26,54,24.2,51.5,24.3,51,26,50,26.5,48.5,29,48,30.5],
[49,30.5,50.5,29.5,52,27.5,55,26.5,57,27,57.5,25.7,61,25.2,66.5,25.3,67.5,24,68.5,23.5,69,22.3,70.5,20.8,72.5,21,72.7,19,73.5,16,74.5,13,76,10,77.5,8,79,9.2,80,11,80.3,14,82,16.5,85,19.7,87,21.3,89,21.8,91,22.5,92,21,94,18],
[80,9.7,81.3,8.5,81.8,7,80.5,6,80,7.5,80,9.7],
[53.5,12.5,54.5,12.5]
];
const borders = [
[-72,11.5,-72.5,9,-71,7,-67.5,6.2,-67.8,2,-70,1.5,-69.5,-4.2],
[-80.3,-3.4,-78,-3,-75.5,-1,-75,0,-77.5,0.5,-79,1.3],
[-70,-4.2,-73,-5,-74,-7.5,-73,-9,-70.5,-10.5],
[-75,0,-72,-2,-70,-4.2],
[-67.8,2,-64,1.5,-64,4,-61,4.5,-60.8,5.2,-60,8.5],
[-60,5,-59.5,3,-59,1.3,-57,2,-56,2,-54.5,2.4,-52.5,2.3,-51.6,4.2],
[-57,6,-58,3.5,-57,2],[-54,5.8,-54.5,2.5],[-69.5,-10.5,-66,-10.5],
[-89,17.8,-91,17.8,-91,16,-92,14.6],[-88.5,15.8,-89,14.5,-87.5,13],[-83.2,15,-87,13],[-83.7,11,-85.7,11],[-83,9.5,-83,8.2],
[-13,27.7,-8.7,27.7,-8.7,29,-9.8,30.5],
[-17,21,-13,21,-13,23.5,-12,26,-8.7,26,-8.7,27.3,-5,25,-6,21,-5.5,15.5,-12,15,-16.5,16],
[-5,25,1,21,3.3,19,4.2,19,4.3,16.5,3.5,15.3,0,15,-5.3,15.5],
[4.2,19,5.8,19.5,12,23.5,9.8,25,9.8,30.5],
[12,23.5,14,22.7,15,23,24,19.5,24,20,25,20,25,30.5],
[25,22,36.8,22],
[15,23,15.5,20,13.5,14,14,12.7],
[24,19.5,22.5,14,23,10.7,22,11],
[14,11,15.5,7.5,19,9,22.8,11,24,9,27,5,30.5,3.5,29.5,-1,30,-5],
[24,9,27,9,33,10,34,10,36,15],
[36.5,14.3,38.5,18],[36.5,14.3,39.5,14.5,42.5,12.5],
[43,11.5,44,9,48,8,45,5,42,4],
[36.5,14.3,34,10,34,8.5,33,8,35,5,41,3.9,41,-1.7],
[34,4.2,34.5,1,34,-1,37.5,-3,39.2,-4.7],
[34,-1,30,-1],
[12.5,-6,16,-6,17,-8,22,-11],
[27,5,22,4,18.5,3.5,17.5,-1,15,-4,12.2,-5],
[9.5,2.3,13.2,2.3,14,1.5,14,-2.3,11,-3.5],
[14.5,10,15,7,14.5,4,16,2,18.5,3.5],
[2.8,6.3,3.5,11.5,4,13.5,7,13,10,13.3,13.6,13.7,14.5,11.5,13,8.5,9,5],
[1.7,6.2,1,11,3.5,11.8],[-3,5,-2.8,11,0,11,1,6],
[-7.5,4.4,-8,8,-8,10.5,-5.5,10.5,-2.8,10],
[-5.5,10.5,-4,12.5,-2,14.7,0,15],[3.5,11.8,2,12.5,0,15],
[-12,12.5,-8,10.5],[-16.7,12.4,-11.5,12.5,-12,15],
[-13.3,9,-11,10,-10,8.5,-11.5,7],[-8,8,-9,5.5],
[-16.7,13.4,-14.5,13.4],[-16.7,12.4,-15,11],
[29.5,-4,29,-7,30,-9],[31,-1,34,-1,33.5,-3,32,-3,31,-1],[34,-9.5,34.5,-11],[30,-8,33,-9.5,33,-11],
[35,-11,34.5,-9],[39,-4.6,37.6,-3],
[43,16.5,46,17.3,52,19,55,20,55,22,52,23,51.5,24.3],[52,19,53,16.7],[55,22,56,24.5],
[39,32,42,31,46.5,29,48,29],
[68,23.7,71,24.5,70,28,73,30.5],[61.5,25,63,27,61,29.5,60.8,30.5],
[88,22,89,26,88,27],[80,29,88,26.4],[92.5,21,93,24,95,28]
];
const equatorSegments = [[-90,-80],[-51,9],[43,90]];

const NS = "http://www.w3.org/2000/svg";
const svg = document.getElementById("chart");
const defs = document.getElementById("defs");
function mk(tag, attrs, parent){
  const el = document.createElementNS(NS, tag);
  for (const k in attrs) el.setAttribute(k, attrs[k]);
  if (parent) parent.appendChild(el);
  return el;
}
const DEG_X = 3.517, DEG_Y = 3.5, COLS = 4;
function panelLeft(i){ return i < COLS ? 102.5 : 844.3; }
function panelTop(i){ return [46,279.3,512.7,745.7][i % COLS]; }
function xAxis(i, lon){ return panelLeft(i) + (lon + 90) * DEG_X; }
function yAxis(i, lat){ return panelTop(i) + (30 - lat) * DEG_Y; }
function project(i, flat){
  const pts = [];
  for (let k = 0; k < flat.length; k += 2) pts.push([xAxis(i, flat[k]), yAxis(i, flat[k+1])]);
  return pts;
}
function smooth(pts, closed){
  const n = pts.length;
  const at = j => closed ? pts[(j + n) % n] : pts[Math.max(0, Math.min(n - 1, j))];
  let d = "M" + pts[0][0].toFixed(1) + " " + pts[0][1].toFixed(1);
  const segs = closed ? n : n - 1;
  for (let j = 0; j < segs; j++){
    const p0 = at(j-1), p1 = at(j), p2 = at(j+1), p3 = at(j+2);
    d += "C" + (p1[0]+(p2[0]-p0[0])/6).toFixed(1) + " " + (p1[1]+(p2[1]-p0[1])/6).toFixed(1) + " " +
         (p2[0]-(p3[0]-p1[0])/6).toFixed(1) + " " + (p2[1]-(p3[1]-p1[1])/6).toFixed(1) + " " +
         p2[0].toFixed(1) + " " + p2[1].toFixed(1);
  }
  return closed ? d + "Z" : d;
}
function poly(pts){ return "M" + pts.map(p => p[0].toFixed(1) + " " + p[1].toFixed(1)).join("L"); }

panelFills.forEach((fills, i) => {
  const g = document.getElementById("panel-" + i);
  const left = panelLeft(i), top = panelTop(i), w = 180 * DEG_X, h = 40 * DEG_Y;
  const clip = mk("clipPath", {id: "clip-" + i}, defs);
  mk("rect", {x: left, y: top, width: w, height: h}, clip);
  const map = mk("g", {"clip-path": "url(#clip-" + i + ")"}, g);
  const bg = mk("rect", {x: left, y: top, width: w, height: h, fill: binColors[5]}, map);
  
  
  fills.forEach(f => {
    const p = mk("path", {d: smooth(project(i, f[1]), true), fill: binColors[f[0] + 5]}, map);
    
    
  });
  coastlines.concat(borders).forEach(c => {
    const p = mk("path", {d: poly(project(i, c)), fill: "none", stroke: "#666", "stroke-width": 1.6, "stroke-linejoin": "round"}, map);
    
    
  });
  equatorSegments.forEach(s => {
    const l = mk("line", {x1: xAxis(i, s[0]), x2: xAxis(i, s[1]), y1: yAxis(i, 0), y2: yAxis(i, 0), stroke: "#444", "stroke-width": 1.2, "stroke-dasharray": "5 4"}, map);
    
    
  });
  const mer = mk("line", {x1: xAxis(i, 0), x2: xAxis(i, 0), y1: yAxis(i, 5), y2: yAxis(i, -10), stroke: "#444", "stroke-width": 1.2, "stroke-dasharray": "5 4"}, map);
  
  
  panelLines[i].forEach(c => {
    const p = mk("path", {d: smooth(project(i, c[2]), c[1]), fill: "none", stroke: waveColors[c[0]], "stroke-width": 1.8}, map);
    
    
  });
  const frame = mk("rect", {x: left, y: top, width: w, height: h, fill: "none", stroke: "#000", "stroke-width": 3}, g);
  
  
  let tickD = "";
  for (let lon = -90; lon <= 90; lon += 10){
    const major = lonMajorTicks.indexOf(lon) >= 0;
    const x = xAxis(i, lon).toFixed(1), len = major ? 6 : 3.5;
    tickD += "M" + x + " " + (top - len) + "V" + (top + 1) + "M" + x + " " + (top + h - 1) + "V" + (top + h + len);
  }
  for (let lat = -10; lat <= 30; lat += 2){
    const major = lat % 10 === 0;
    const y = yAxis(i, lat).toFixed(1), len = major ? 5 : 3;
    tickD += "M" + (left - len) + " " + y + "H" + (left + 1) + "M" + (left + w - 1) + " " + y + "H" + (left + w + len);
  }
  const ticks = mk("path", {d: tickD, stroke: "#000", "stroke-width": 1.5, fill: "none"}, g);
  
  
  if (i < COLS){
    latTicks.forEach((lat, k) => {
      const label = latTickLabels[k];
      const t = mk("text", {x: 74, y: (yAxis(i, lat) + 12.5).toFixed(1), "font-size": 36, "text-anchor": "end", textLength: label.length > 1 ? 61 : 19, lengthAdjust: "spacingAndGlyphs"}, g);
      
      
      t.textContent = label;
    });
  }
  if (i % COLS === COLS - 1){
    lonMajorTicks.forEach((lon, k) => {
      const label = lonTickLabels[k];
      const t = mk("text", {x: xAxis(i, lon).toFixed(1), y: 942, "font-size": 36, "text-anchor": "middle", textLength: label.length > 1 ? (label === "60W" ? 71 : 60) : 19, lengthAdjust: "spacingAndGlyphs"}, svg);
      
      
      t.textContent = label;
    });
  }
});

// Storm marker in the 4-Oct panel
const stormGroup = mk("g", {transform: "translate(" + xAxis(2, -81.6).toFixed(1) + " " + yAxis(2, 12).toFixed(1) + ")"}, document.getElementById("panel-2"));


mk("ellipse", {rx: 5, ry: 9, fill: "#ff0000", stroke: "#000", "stroke-width": 1.6, transform: "rotate(12)"}, stormGroup);
const stormLabel = mk("text", {y: 3, "font-size": 8, "font-weight": "bold", "text-anchor": "middle", style: "fill:#fff"}, stormGroup);


stormLabel.textContent = "N";

// Colour bar
const cbar = document.getElementById("colorbar");
const BAR_L = 229.5, BAR_W = 603.5 / binColors.length;
binColors.forEach((c, k) => {
  const r = mk("rect", {x: (BAR_L + k * BAR_W).toFixed(1), y: 1004.5, width: BAR_W.toFixed(1), height: 23.5, fill: c, stroke: "#000", "stroke-width": 1.4}, cbar);
  
  
});
binLabels.forEach((s, k) => {
  const t = mk("text", {x: (BAR_L + (k + 1) * BAR_W).toFixed(1), y: 1057, "font-size": 29, "text-anchor": "middle", textLength: s.length > 1 ? 26 : 15, lengthAdjust: "spacingAndGlyphs"}, cbar);
  
  
  t.textContent = s;
});
</script>
</body>
</html>
